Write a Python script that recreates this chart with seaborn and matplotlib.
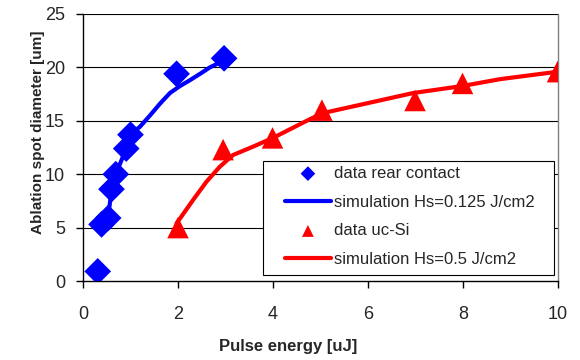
import numpy as np
import pandas as pd
import matplotlib
matplotlib.use('Agg')
import matplotlib.pyplot as plt
from matplotlib.patches import Rectangle
import seaborn as sns

# === Data ===
rear_x = [0.31, 0.39, 0.53, 0.60, 0.69, 0.91, 1.00, 1.97, 2.97]
rear_y = [0.9, 5.3, 5.9, 8.6, 10.0, 12.4, 13.7, 19.4, 20.85]

sim_rear_x = [0.39, 0.53, 0.60, 0.69, 0.91, 1.02, 1.20, 1.41, 1.62, 1.83, 2.04, 2.25, 2.50, 2.67, 2.81, 2.99]
sim_rear_y = [5.3, 6.0, 8.5, 10.0, 12.4, 13.8, 14.45, 15.5, 16.6, 17.6, 18.25, 18.8, 19.5, 20.0, 20.3, 20.75]

ucsi_x = [2.0, 2.95, 3.99, 5.03, 6.99, 7.99, 9.99]
ucsi_y = [5.0, 12.3, 13.4, 16.0, 16.9, 18.5, 19.6]

sim_ucsi_x = [1.97, 2.32, 2.60, 2.88, 3.16, 3.59, 4.0, 4.71, 5.03, 6.95, 7.99, 8.78, 10.0]
sim_ucsi_y = [5.4, 7.6, 9.3, 10.7, 11.8, 12.6, 13.4, 15.0, 15.7, 17.6, 18.26, 18.9, 19.6]

labels = ['data rear contact', 'simulation Hs=0.125 J/cm2',
          'data uc-Si', 'simulation Hs=0.5 J/cm2']

sns.set_style('white')
plt.rcParams['font.family'] = ['Liberation Sans', 'DejaVu Sans']

W, H = 580, 360
fig = plt.figure(figsize=(W / 100, H / 100), dpi=100)
ax = fig.add_axes([83 / W, 1 - 281 / H, 475 / W, 267 / H])

# === grid lines ===
for yv in [5, 10, 15, 20, 25]:
    ax.axhline(yv, color='black', lw=0.8, zorder=0)

# === curves and data ===
sns.lineplot(x=sim_rear_x, y=sim_rear_y, sort=False, color='#0000FF', lw=3,
             ax=ax, label=labels[1], zorder=2)
sns.lineplot(x=sim_ucsi_x, y=sim_ucsi_y, sort=False, color='#FF0000', lw=3,
             ax=ax, label=labels[3], zorder=2)
sns.scatterplot(x=rear_x, y=rear_y, marker='D', s=185, color='#0000FF',
                edgecolor='none', ax=ax, label=labels[0], zorder=3)
sns.scatterplot(x=ucsi_x, y=ucsi_y, marker='^', s=240, color='#FF0000',
                edgecolor='none', ax=ax, label=labels[2], zorder=3)

ax.set_xlim(0, 10)
ax.set_ylim(0, 25)
ax.set_xticks(range(0, 11, 2))
ax.set_yticks(range(0, 26, 5))
ax.tick_params(axis='both', labelsize=13, direction='out', length=5,
               width=1, color='black', left=True, bottom=True)
ax.tick_params(axis='x', pad=13)
ax.tick_params(axis='y', pad=8)

for s in ['left', 'bottom']:
    ax.spines[s].set_color('black')
    ax.spines[s].set_linewidth(1)
ax.spines['right'].set_color('#808080')
ax.spines['right'].set_linewidth(1)
ax.spines['top'].set_visible(False)

ax.set_xlabel('Pulse energy [uJ]', fontsize=12, fontweight='bold')
ax.set_ylabel('Ablation spot diameter [um]', fontsize=11, fontweight='bold')
ax.xaxis.set_label_coords((288 - 83) / 475, (281 - 346) / 267)
ax.xaxis.label.set_va('center')
ax.yaxis.set_label_coords((38 - 83) / 475, (281 - 132) / 267)
ax.yaxis.label.set_va('center')

# === legend (frame drawn separately to get Excel-like padding) ===
h, l = ax.get_legend_handles_labels()
order = [l.index(t) for t in labels]
leg = ax.legend([h[i] for i in order], [l[i] for i in order],
                loc='upper left', bbox_to_anchor=(285 / W, 1 - 166 / H),
                bbox_transform=fig.transFigure, borderaxespad=0, borderpad=0,
                fontsize=12, frameon=False, handlelength=2.75,
                labelspacing=0.82, markerscale=0.55, handletextpad=0.2)
leg.set_zorder(5)
frame = Rectangle((263 / W, 1 - 275 / H), 291 / W, 114 / H,
                  transform=fig.transFigure, facecolor='white',
                  edgecolor='black', lw=0.8, zorder=4)
ax.add_patch(frame)
frame.set_clip_on(False)

fig.savefig('out.png', dpi=100)
